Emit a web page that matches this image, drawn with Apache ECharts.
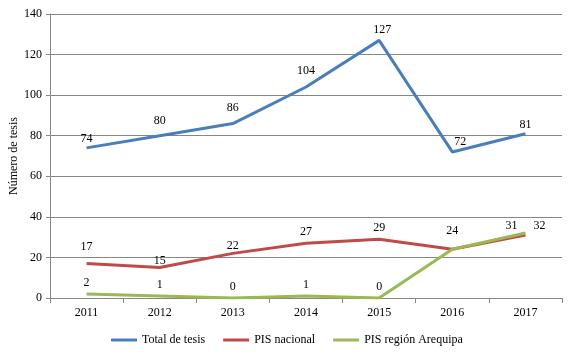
<!DOCTYPE html>
<html>
<head>
<meta charset="utf-8">
<script src="https://cdn.jsdelivr.net/npm/echarts@6/dist/echarts.min.js"></script>
<style>
  html, body { margin: 0; padding: 0; background: #fff; }
  #chart { width: 568px; height: 354px; }
</style>
</head>
<body>
<div id="chart"></div>
<script>
// datos del gráfico
var years = ['2011', '2012', '2013', '2014', '2015', '2016', '2017'];
var totalTesis = [74, 80, 86, 104, 127, 72, 81];
var pisNacional = [17, 15, 22, 27, 29, 24, 31];
var pisArequipa = [2, 1, 0, 1, 0, 24, 32];
var seriesNames = ['Total de tesis', 'PIS nacional', 'PIS región Arequipa'];
var colors = ['#4a7ebb', '#be4b48', '#98b954'];

var fontFam = 'Liberation Serif';

// ajustes de etiquetas puntuales (como en el original)
function labelData(values, tweaks) {
    var out = [];
    for (var i = 0; i < values.length; i++) {
        var item = { value: values[i] };
        if (tweaks && tweaks[i]) {
            item.label = tweaks[i];
        }
        out.push(item);
    }
    return out;
}

var dom = document.getElementById('chart');
var myChart = echarts.init(dom);

var baseLabel = { show: true, position: 'top', distance: 5, color: '#000', fontSize: 12, fontFamily: fontFam };

var option = {
    color: colors,
    animation: false,
    textStyle: { fontFamily: fontFam },
    grid: {
        left: 50,
        right: 6,
        top: 14,
        bottom: 56,
        containLabel: false,
        outerBoundsMode: 'none'
    },
    legend: {
        bottom: 8,
        left: 111,
        padding: 0,
        itemWidth: 26,
        itemHeight: 3,
        itemGap: 18,
        icon: 'rect',
        textStyle: { fontFamily: fontFam, fontSize: 12, color: '#000' },
        data: seriesNames
    },
    xAxis: {
        type: 'category',
        data: years,
        boundaryGap: true,
        axisLine: { lineStyle: { color: '#868686' } },
        axisTick: { show: true, length: 5, lineStyle: { color: '#868686' } },
        axisLabel: { color: '#000', fontSize: 12, fontFamily: fontFam, margin: 9 }
    },
    yAxis: {
        type: 'value',
        min: 0,
        max: 140,
        interval: 20,
        name: 'Número de tesis',
        nameLocation: 'middle',
        nameGap: 30,
        nameMoveOverlap: false,
        nameTextStyle: { color: '#000', fontSize: 12, fontFamily: fontFam },
        axisLine: { show: true, lineStyle: { color: '#868686' } },
        axisTick: { show: true, length: 4, lineStyle: { color: '#868686' } },
        axisLabel: { color: '#000', fontSize: 12, fontFamily: fontFam, margin: 8 },
        splitLine: { lineStyle: { color: '#868686' } }
    },
    series: [
        {
            name: seriesNames[0],
            type: 'line',
            symbol: 'circle',
            symbolSize: 0.1,
            lineStyle: { width: 3 },
            label: baseLabel,
            data: labelData(totalTesis, {
                0: { distance: 3 },
                1: { distance: 9 },
                2: { distance: 10 },
                3: { distance: 10 },
                4: { distance: 4, offset: [3, 0] },
                5: { distance: 4, offset: [8, 0] },
                6: { distance: 3 }
            })
        },
        {
            name: seriesNames[1],
            type: 'line',
            symbol: 'circle',
            symbolSize: 0.1,
            lineStyle: { width: 3 },
            label: baseLabel,
            data: labelData(pisNacional, {
                0: { distance: 11 },
                1: { distance: 1 },
                2: { offset: [0, 4] },
                5: { distance: 12 },
                6: { position: 'left', offset: [-3, -9] }
            })
        },
        {
            name: seriesNames[2],
            type: 'line',
            symbol: 'circle',
            symbolSize: 0.1,
            lineStyle: { width: 3 },
            label: baseLabel,
            data: labelData(pisArequipa, {
                5: { show: false },
                6: { position: 'right', offset: [3, -7] }
            })
        }
    ]
};

if (option && typeof option === "object") {
    myChart.setOption(option, true);
}
</script>
</body>
</html>
